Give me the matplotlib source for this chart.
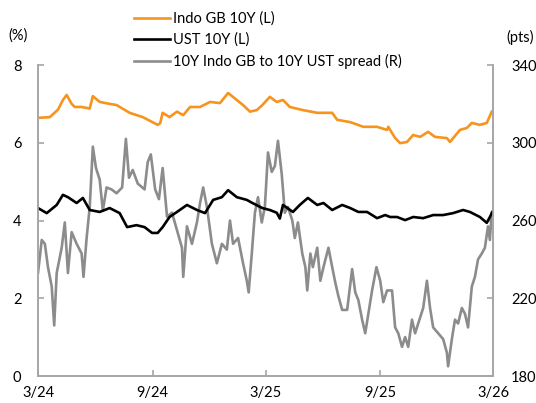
import pandas as pd
import matplotlib
matplotlib.use("Agg")
import matplotlib.pyplot as plt
import matplotlib.dates as mdates

plt.rcParams['font.family'] = ['Lato', 'DejaVu Sans']

# Indo GB 10Y yield (%)
indo_dates = ["2024-03-01", "2024-03-20", "2024-04-02", "2024-04-10", "2024-04-16", "2024-04-24",
              "2024-04-29", "2024-05-10", "2024-05-23", "2024-05-28", "2024-06-08", "2024-06-24",
              "2024-07-05", "2024-07-26", "2024-08-16", "2024-09-09", "2024-09-13", "2024-09-17",
              "2024-09-28", "2024-10-10", "2024-10-20", "2024-10-31", "2024-11-16", "2024-12-02",
              "2024-12-18", "2024-12-31", "2025-01-14", "2025-01-24", "2025-02-04", "2025-02-15",
              "2025-02-24", "2025-03-08", "2025-03-19", "2025-03-29", "2025-04-09", "2025-04-30",
              "2025-05-23", "2025-06-16", "2025-06-24", "2025-07-15", "2025-08-05", "2025-08-27",
              "2025-09-12", "2025-09-14", "2025-09-25", "2025-10-03", "2025-10-14", "2025-10-24",
              "2025-11-04", "2025-11-17", "2025-11-28", "2025-12-17", "2025-12-22", "2026-01-07",
              "2026-01-18", "2026-01-26", "2026-02-08", "2026-02-19", "2026-02-27"]
indo_yield = [6.64, 6.66, 6.85, 7.10, 7.23, 7.00,
              6.92, 6.92, 6.88, 7.20, 7.05, 7.00,
              6.97, 6.77, 6.66, 6.46, 6.50, 6.77,
              6.66, 6.80, 6.71, 6.92, 6.92, 7.05,
              7.02, 7.28, 7.10, 6.97, 6.80, 6.84,
              6.97, 7.18, 7.05, 7.10, 6.92, 6.84,
              6.77, 6.77, 6.59, 6.53, 6.41, 6.41,
              6.33, 6.41, 6.12, 5.99, 6.02, 6.20,
              6.15, 6.28, 6.15, 6.12, 6.02, 6.33,
              6.38, 6.51, 6.46, 6.51, 6.80]

# UST 10Y yield (%)
ust_dates = ["2024-03-01", "2024-03-15", "2024-03-31", "2024-04-10", "2024-04-18", "2024-05-02",
             "2024-05-12", "2024-05-23", "2024-06-08", "2024-06-24", "2024-07-10", "2024-07-22",
             "2024-08-06", "2024-08-19", "2024-08-31", "2024-09-09", "2024-09-17", "2024-09-28",
             "2024-10-10", "2024-10-26", "2024-11-11", "2024-11-24", "2024-12-07", "2024-12-21",
             "2024-12-31", "2025-01-14", "2025-01-30", "2025-02-08", "2025-02-24", "2025-03-08",
             "2025-03-19", "2025-03-24", "2025-03-29", "2025-04-14", "2025-04-25", "2025-05-08",
             "2025-05-23", "2025-06-02", "2025-06-16", "2025-07-02", "2025-07-15", "2025-07-28",
             "2025-08-11", "2025-08-27", "2025-09-09", "2025-09-17", "2025-09-28", "2025-10-11",
             "2025-10-24", "2025-11-09", "2025-11-25", "2025-12-11", "2025-12-27", "2026-01-12",
             "2026-01-23", "2026-02-08", "2026-02-19", "2026-02-24", "2026-02-28"]
ust_yield = [4.32, 4.19, 4.40, 4.66, 4.60, 4.45,
             4.58, 4.27, 4.22, 4.32, 4.19, 3.83,
             3.88, 3.83, 3.68, 3.68, 3.83, 4.09,
             4.22, 4.40, 4.27, 4.19, 4.53, 4.60,
             4.78, 4.60, 4.53, 4.45, 4.32, 4.27,
             4.20, 4.05, 4.40, 4.22, 4.40, 4.58,
             4.40, 4.45, 4.27, 4.40, 4.32, 4.22,
             4.22, 4.06, 4.14, 4.09, 4.09, 4.01,
             4.09, 4.06, 4.14, 4.14, 4.19, 4.27,
             4.22, 4.09, 3.94, 4.09, 4.22]

# 10Y Indo GB to 10Y UST spread (pts)
spread_dates = ["2024-03-01", "2024-03-07", "2024-03-12", "2024-03-17", "2024-03-23", "2024-03-27",
                "2024-03-31", "2024-04-08", "2024-04-13", "2024-04-18", "2024-04-24", "2024-05-02",
                "2024-05-10", "2024-05-13", "2024-05-18", "2024-05-23", "2024-05-28", "2024-06-02",
                "2024-06-08", "2024-06-13", "2024-06-19", "2024-06-27", "2024-07-05", "2024-07-14",
                "2024-07-20", "2024-07-25", "2024-07-31", "2024-08-08", "2024-08-19", "2024-08-24",
                "2024-08-29", "2024-09-05", "2024-09-11", "2024-09-17", "2024-09-24", "2024-10-02",
                "2024-10-10", "2024-10-18", "2024-10-20", "2024-10-26", "2024-11-03", "2024-11-11",
                "2024-11-16", "2024-11-21", "2024-11-27", "2024-12-05", "2024-12-13", "2024-12-21",
                "2024-12-29", "2025-01-03", "2025-01-08", "2025-01-16", "2025-01-24", "2025-01-30",
                "2025-02-02", "2025-02-07", "2025-02-12", "2025-02-17", "2025-02-23", "2025-02-28",
                "2025-03-05", "2025-03-11", "2025-03-16", "2025-03-21", "2025-03-27", "2025-04-01",
                "2025-04-06", "2025-04-13", "2025-04-17", "2025-04-22", "2025-04-29", "2025-05-04",
                "2025-05-07", "2025-05-12", "2025-05-16", "2025-05-23", "2025-05-28", "2025-06-02",
                "2025-06-10", "2025-06-16", "2025-06-21", "2025-06-26", "2025-07-02", "2025-07-10",
                "2025-07-18", "2025-07-23", "2025-07-28", "2025-08-03", "2025-08-08", "2025-08-13",
                "2025-08-19", "2025-08-26", "2025-09-01", "2025-09-06", "2025-09-12", "2025-09-20",
                "2025-09-25", "2025-09-30", "2025-10-06", "2025-10-11", "2025-10-16", "2025-10-22",
                "2025-10-27", "2025-11-04", "2025-11-09", "2025-11-15", "2025-11-20", "2025-11-25",
                "2025-12-03", "2025-12-11", "2025-12-17", "2025-12-19", "2025-12-25", "2025-12-30",
                "2026-01-04", "2026-01-10", "2026-01-15", "2026-01-20", "2026-01-26", "2026-01-31",
                "2026-02-05", "2026-02-11", "2026-02-16", "2026-02-21", "2026-02-24", "2026-02-27"]
spread_pts = [233, 250, 248, 236, 226, 206,
              233, 246, 259, 233, 254, 248,
              243, 231, 251, 267, 298, 287,
              281, 265, 277, 276, 274, 277,
              302, 282, 286, 279, 276, 290,
              294, 276, 271, 287, 262, 264,
              255, 246, 231, 257, 248, 259,
              269, 277, 267, 248, 238, 248,
              245, 260, 248, 251, 238, 229,
              223, 243, 264, 272, 259, 267,
              295, 285, 288, 301, 284, 264,
              267, 260, 251, 259, 243, 236,
              224, 243, 236, 246, 229, 236,
              246, 236, 228, 221, 214, 214,
              235, 223, 219, 209, 202, 212,
              224, 236, 229, 218, 224, 224,
              205, 202, 195, 200, 195, 209,
              202, 210, 215, 229, 215, 205,
              202, 199, 192, 185, 199, 209,
              207, 215, 212, 205, 226, 231,
              240, 243, 246, 257, 250, 264]

tick_dates = ["2024-03-01", "2024-09-01", "2025-03-01", "2025-09-01", "2026-03-01"]
tick_labels = ["3/24", "9/24", "3/25", "9/25", "3/26"]

orange = "#F7941D"
grey = "#8C8C8C"
spine_col = "#A6A6A6"

fig = plt.figure(figsize=(5.36, 4.03), dpi=100)
ax = fig.add_axes([38 / 536, 1 - 376 / 403, (493 - 38) / 536, (376 - 65) / 403])
ax2 = ax.twinx()

l1, = ax.plot(pd.to_datetime(indo_dates), indo_yield, color=orange, lw=1.9, label="Indo GB 10Y (L)")
l2, = ax.plot(pd.to_datetime(ust_dates), ust_yield, color="black", lw=1.9, label="UST 10Y (L)")
l3, = ax2.plot(pd.to_datetime(spread_dates), spread_pts, color=grey, lw=1.9, label="10Y Indo GB to 10Y UST spread (R)")

ax.set_zorder(ax2.get_zorder() + 1)
ax.patch.set_visible(False)

ax.set_xlim(pd.Timestamp("2024-03-01"), pd.Timestamp("2026-03-01"))
ax.set_ylim(0, 8)
ax.set_yticks([0, 2, 4, 6, 8])
ax2.set_ylim(180, 340)
ax2.set_yticks([180, 220, 260, 300, 340])
ax.set_xticks(pd.to_datetime(tick_dates))
ax.set_xticklabels(tick_labels)

for a in (ax, ax2):
    a.spines['top'].set_visible(False)
    for s in ('left', 'right', 'bottom'):
        a.spines[s].set_color(spine_col)
        a.spines[s].set_linewidth(1.2)
    a.tick_params(direction='in', length=4, width=1.2, color=spine_col, labelsize=10.5)

ax.tick_params(axis='y', pad=12)
ax.tick_params(axis='x', pad=7)
ax2.tick_params(axis='y', pad=13)

fig.text(18 / 536, 1 - 36 / 403, "(%)", ha='center', va='center', fontsize=10.5)
fig.text(520 / 536, 1 - 37 / 403, "(pts)", ha='center', va='center', fontsize=10.5)

fig.legend(handles=[l1, l2, l3], loc='upper left', bbox_to_anchor=(128 / 536, 1 - 6 / 403),
           frameon=False, fontsize=10.5, handlelength=2.5, handletextpad=0.2, labelspacing=0.45,
           borderaxespad=0)

fig.savefig("out.png", dpi=100)
